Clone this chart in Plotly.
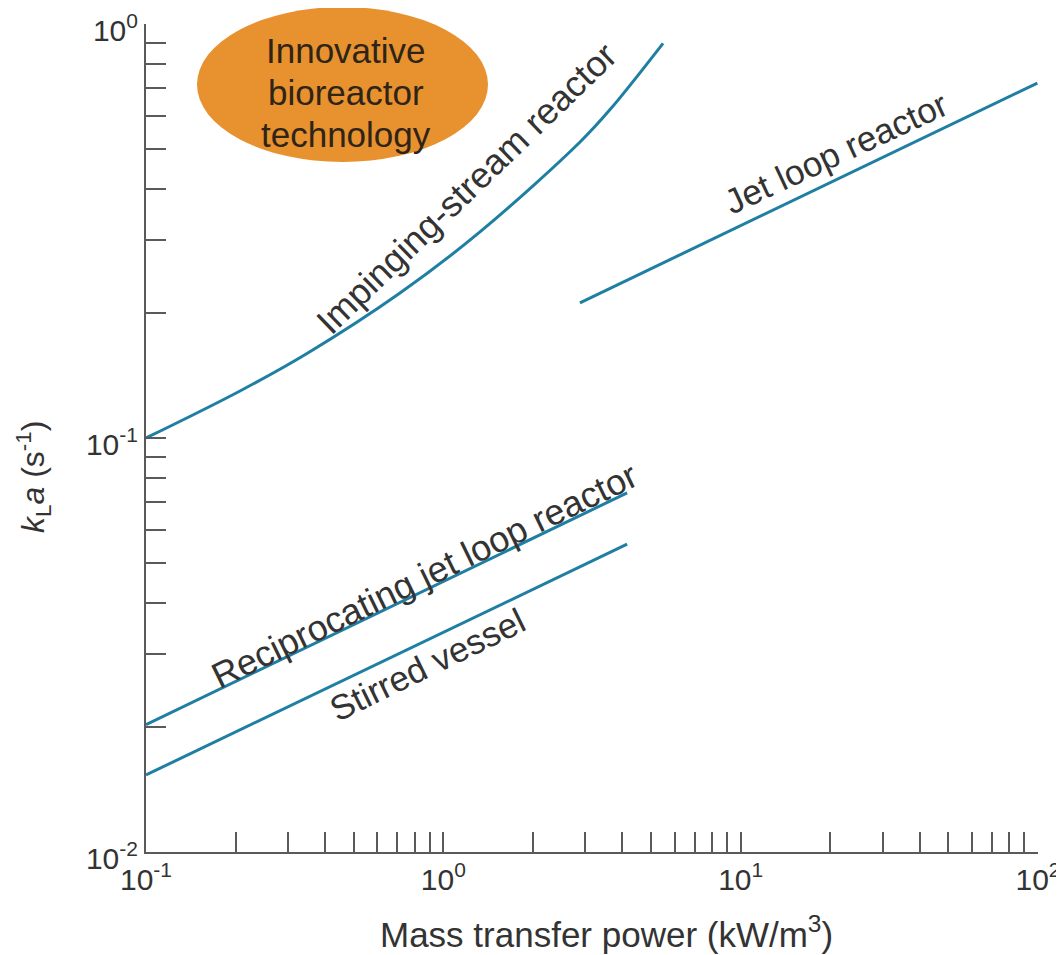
import plotly.graph_objects as go

# ---- data ----
impinging_x = [0.1, 0.2071, 0.3479, 0.7149, 1.328, 2.883, 3.636, 5.482]
impinging_y = [0.1, 0.1299, 0.1600, 0.2240, 0.3146, 0.5188, 0.6212, 0.898]

jetloop_x = [2.88, 99.5]
jetloop_y = [0.212, 0.72]

recip_x = [0.1, 4.15]
recip_y = [0.0203, 0.0737]

stirred_x = [0.1, 4.15]
stirred_y = [0.01535, 0.0554]

x_tick_labels = {0.1: "10<sup>-1</sup>", 1: "10<sup>0</sup>", 10: "10<sup>1</sup>", 100: "10<sup>2</sup>"}
y_tick_labels = {0.01: "10<sup>-2</sup>", 0.1: "10<sup>-1</sup>", 1: "10<sup>0</sup>"}

x_title = "Mass transfer power (kW/m<sup>3</sup>)"
y_title = "<i>k</i><sub>L</sub><i>a</i> (s<sup>-1</sup>)"
ellipse_lines = ["Innovative", "bioreactor", "technology"]

# ---- layout helpers (screen pixel targets; page body has an 8px margin) ----
OFF = 8
W, H = 1064 - OFF, 955 - OFF
# plot area on screen: x 146..1038, y 24..852
L, R = 146 - OFF, W - (1038 - OFF)
T, B = 24 - OFF, H - (852 - OFF)
PW, PH = W - L - R, H - T - B


def pxx(x):
    return (x - OFF - L) / PW


def pxy(y):
    return (H - B - (y - OFF)) / PH


FONT = "Liberation Sans, Arial, Helvetica, sans-serif"
LINE_COLOR = "#1f7fa3"
AXIS_COLOR = "#5a5a5a"
TEXT_COLOR = "#333333"


def log_ticks(lo_exp, hi_exp):
    vals = []
    for e in range(lo_exp, hi_exp):
        for m in range(1, 10):
            vals.append(round(m * 10 ** e, 10))
    vals.append(round(10 ** hi_exp, 10))
    return vals


xt = log_ticks(-1, 2)
yt = log_ticks(-2, 0)
xtext = [x_tick_labels.get(v, "") for v in xt]
ytext = [y_tick_labels.get(v, "") for v in yt]

fig = go.Figure()
for xs, ys, shape in [(impinging_x, impinging_y, "spline"), (jetloop_x, jetloop_y, "linear"),
                      (recip_x, recip_y, "linear"), (stirred_x, stirred_y, "linear")]:
    fig.add_trace(go.Scatter(x=xs, y=ys, mode="lines",
                             line=dict(color=LINE_COLOR, width=3, shape=shape, smoothing=1.0),
                             showlegend=False, hoverinfo="skip", cliponaxis=False))

axis_common = dict(type="log", showgrid=False, zeroline=False, showline=True,
                   linecolor=AXIS_COLOR, linewidth=2, ticks="inside", ticklen=20,
                   tickwidth=2, tickcolor=AXIS_COLOR, tickmode="array", automargin=False,
                   ticklabeloverflow="allow",
                   tickfont=dict(family=FONT, size=30, color=TEXT_COLOR))

fig.update_xaxes(range=[-1, 2], tickvals=xt, ticktext=xtext, **axis_common)
fig.update_yaxes(range=[-2, 0], tickvals=yt, ticktext=ytext, ticklabelshift=6, **axis_common)

annotations = []
# axis titles
annotations.append(dict(text=x_title, x=pxx(606), y=pxy(932), xref="paper", yref="paper",
                        showarrow=False, xanchor="center", yanchor="middle",
                        font=dict(family=FONT, size=35, color=TEXT_COLOR)))
annotations.append(dict(text=y_title, x=pxx(33), y=pxy(477), xref="paper", yref="paper",
                        showarrow=False, xanchor="center", yanchor="middle", textangle=-90,
                        font=dict(family=FONT, size=32, color=TEXT_COLOR)))
# curve labels
for text, cx, cy, ang, fs in [("Impinging-stream reactor", 466, 188, -44, 36),
                              ("Jet loop reactor", 836, 152, -25, 35),
                              ("Reciprocating jet loop reactor", 424, 575, -26, 36),
                              ("Stirred vessel", 427, 664, -26, 35)]:
    annotations.append(dict(text=text, x=pxx(cx), y=pxy(cy), xref="paper", yref="paper",
                            showarrow=False, xanchor="center", yanchor="middle", textangle=ang,
                            font=dict(family=FONT, size=fs, color=TEXT_COLOR)))
# ellipse text
for i, line in enumerate(ellipse_lines):
    annotations.append(dict(text=line, x=pxx(346), y=pxy(50 + 42 * i), xref="paper", yref="paper",
                            showarrow=False, xanchor="center", yanchor="middle",
                            font=dict(family=FONT, size=35, color="#2e2418")))

fig.update_layout(
    width=W, height=H,
    margin=dict(l=L, r=R, t=T, b=B, autoexpand=False),
    paper_bgcolor="white", plot_bgcolor="white",
    annotations=annotations,
    shapes=[dict(type="circle", xref="paper", yref="paper",
                 x0=pxx(197), x1=pxx(488), y0=pxy(7), y1=pxy(162),
                 fillcolor="#e8912f", line=dict(width=0), layer="below")],
)

fig.write_html("out.html")
